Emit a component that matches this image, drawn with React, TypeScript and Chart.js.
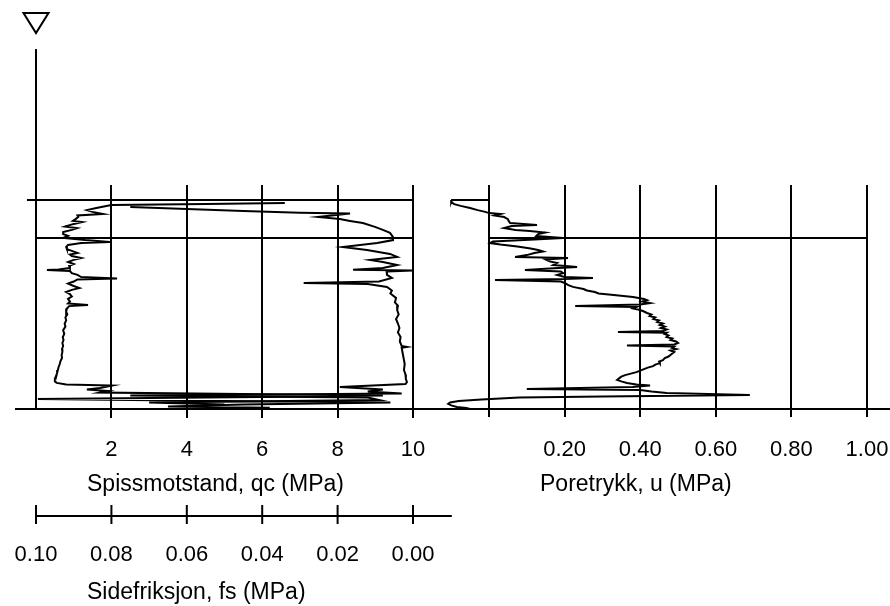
import React, { useEffect, useRef } from 'react';
import { Chart, registerables } from 'chart.js';

Chart.register(...registerables);

const FONT = '"Liberation Sans", Arial, sans-serif';

// Axis ticks
const qcTicks = [0, 2, 4, 6, 8, 10];
const fsTicks = [0.1, 0.08, 0.06, 0.04, 0.02, 0.0];
const uTicks = [0, 0.2, 0.4, 0.6, 0.8, 1.0];

// Axis titles
const qcTitle = 'Spissmotstand, qc (MPa)';
const fsTitle = 'Sidefriksjon, fs (MPa)';
const uTitle = 'Poretrykk, u (MPa)';

// Depths (m)
const groundwaterDepth = 0;
const gridTopDepth = 4.5333;
const soundingStartDepth = 5.03;
const layerBoundaryDepth = 6.3;
const finalDepth = 12;
const fsAxisDepth = 15.57;

// [depth, qc (MPa)]
const qcProfile: [number, number][] = [
  [5.13, 6.6], [5.17, 4.5], [5.2, 2.0], [5.25, 1.8], [5.3, 1.6], [5.37, 1.35], [5.43, 1.5],
  [5.5, 1.78], [5.55, 1.1], [5.6, 1.12], [5.67, 1.05], [5.73, 0.98], [5.77, 1.22], [5.83, 1.0],
  [5.92, 0.77], [5.97, 1.09], [6.03, 0.95], [6.1, 0.72], [6.17, 0.72], [6.23, 0.85], [6.3, 0.72],
  [6.37, 1.3], [6.43, 1.96], [6.47, 1.2], [6.53, 0.85], [6.6, 0.8], [6.67, 0.82], [6.73, 0.95],
  [6.8, 1.1], [6.85, 0.9], [6.9, 0.95], [6.97, 1.2], [7.03, 1.0], [7.1, 0.85], [7.17, 1.0],
  [7.23, 0.88], [7.3, 0.9], [7.35, 0.6], [7.37, 0.29], [7.4, 0.9], [7.47, 0.95], [7.53, 1.1],
  [7.6, 1.2], [7.65, 2.15], [7.68, 1.1], [7.75, 1.0], [7.82, 0.85], [7.9, 1.0], [7.97, 1.15],
  [8.03, 0.95], [8.1, 0.8], [8.17, 0.9], [8.25, 0.95], [8.33, 0.85], [8.42, 0.9], [8.48, 0.85],
  [8.53, 1.38], [8.57, 0.88], [8.65, 0.82], [8.75, 0.8], [8.85, 0.83], [8.95, 0.78], [9.05, 0.8],
  [9.15, 0.76], [9.25, 0.78], [9.37, 0.72], [9.5, 0.75], [9.6, 0.71], [9.7, 0.73], [9.8, 0.7],
  [9.9, 0.72], [10.0, 0.69], [10.1, 0.7], [10.2, 0.68], [10.3, 0.69], [10.4, 0.65], [10.5, 0.63],
  [10.6, 0.6], [10.7, 0.58], [10.8, 0.56], [10.9, 0.53], [11.0, 0.5], [11.08, 0.5], [11.13, 0.55],
  [11.18, 0.8], [11.22, 2.02], [11.3, 1.7], [11.35, 1.35], [11.4, 1.9], [11.45, 1.7], [11.55, 9.2],
  [11.6, 6.0], [11.67, 0.05], [11.73, 5.0], [11.78, 9.4], [11.85, 5.5], [11.92, 3.5], [11.96, 6.2],
];

// [depth, fs (MPa)]
const fsProfile: [number, number][] = [
  [5.27, 0.075], [5.33, 0.06], [5.4, 0.045], [5.46, 0.03], [5.48, 0.0167], [5.6, 0.0252],
  [5.67, 0.0194], [5.73, 0.0167], [5.8, 0.0133], [5.93, 0.0101], [6.03, 0.008], [6.13, 0.0061],
  [6.27, 0.0053], [6.37, 0.0053], [6.47, 0.0095], [6.6, 0.0186], [6.7, 0.0122], [6.83, 0.0061],
  [6.93, 0.0042], [7.03, 0.0114], [7.1, 0.008], [7.2, 0.0042], [7.3, 0.008], [7.36, 0.0159],
  [7.38, 0.0], [7.42, 0.007], [7.53, 0.0069], [7.63, 0.0056], [7.75, 0.009], [7.8, 0.029],
  [7.83, 0.012], [7.93, 0.0069], [8.05, 0.0056], [8.15, 0.006], [8.3, 0.0045], [8.45, 0.0048],
  [8.55, 0.004], [8.7, 0.0042], [8.85, 0.0038], [9.0, 0.0045], [9.15, 0.004], [9.3, 0.0036],
  [9.45, 0.004], [9.6, 0.0033], [9.75, 0.0035], [9.9, 0.003], [9.93, 0.0016], [9.96, 0.003],
  [10.1, 0.0028], [10.3, 0.0025], [10.5, 0.0022], [10.7, 0.0024], [10.85, 0.002], [11.0, 0.0019],
  [11.1, 0.0016], [11.17, 0.002], [11.27, 0.0194], [11.35, 0.008], [11.42, 0.012], [11.48, 0.003],
  [11.55, 0.075], [11.62, 0.012], [11.7, 0.009], [11.78, 0.07], [11.85, 0.05],
];

// [depth, u (MPa)]
const uProfile: [number, number][] = [
  [5.03, 0.0], [5.03, -0.098], [5.1, -0.1], [5.17, -0.092], [5.23, -0.075], [5.3, -0.05],
  [5.37, -0.03], [5.43, -0.01], [5.47, 0.0], [5.5, 0.03], [5.55, 0.015], [5.6, 0.04], [5.67, 0.05],
  [5.73, 0.052], [5.8, 0.056], [5.87, 0.127], [5.9, 0.06], [5.97, 0.04], [6.03, 0.07], [6.07, 0.108],
  [6.12, 0.148], [6.17, 0.13], [6.23, 0.125], [6.3, 0.196], [6.35, 0.12], [6.42, 0.01], [6.47, 0.003],
  [6.52, 0.03], [6.58, 0.075], [6.65, 0.11], [6.7, 0.13], [6.75, 0.143], [6.8, 0.12], [6.87, 0.1],
  [6.93, 0.069], [6.97, 0.209], [7.02, 0.15], [7.08, 0.16], [7.13, 0.18], [7.2, 0.17], [7.27, 0.233],
  [7.32, 0.16], [7.37, 0.095], [7.42, 0.19], [7.47, 0.196], [7.53, 0.18], [7.6, 0.2], [7.63, 0.275],
  [7.67, 0.2], [7.7, 0.016], [7.75, 0.19], [7.8, 0.2], [7.87, 0.21], [7.93, 0.222], [8.0, 0.25],
  [8.05, 0.259], [8.1, 0.28], [8.15, 0.29], [8.2, 0.33], [8.27, 0.381], [8.33, 0.41], [8.37, 0.418],
  [8.42, 0.405], [8.47, 0.426], [8.52, 0.4], [8.57, 0.228], [8.6, 0.39], [8.65, 0.381], [8.7, 0.4],
  [8.75, 0.41], [8.8, 0.418], [8.85, 0.43], [8.9, 0.425], [8.95, 0.44], [9.0, 0.435], [9.05, 0.45],
  [9.1, 0.445], [9.15, 0.46], [9.2, 0.452], [9.25, 0.465], [9.3, 0.455], [9.35, 0.47], [9.4, 0.46],
  [9.43, 0.341], [9.46, 0.47], [9.5, 0.465], [9.55, 0.475], [9.6, 0.47], [9.65, 0.485], [9.7, 0.48],
  [9.75, 0.495], [9.8, 0.5], [9.85, 0.49], [9.88, 0.365], [9.92, 0.49], [9.97, 0.485], [10.0, 0.495],
  [10.05, 0.48], [10.1, 0.49], [10.15, 0.485], [10.2, 0.48], [10.25, 0.475], [10.3, 0.465],
  [10.37, 0.46], [10.42, 0.45], [10.47, 0.452], [10.52, 0.44], [10.57, 0.434], [10.62, 0.42],
  [10.67, 0.41], [10.72, 0.4], [10.77, 0.39], [10.82, 0.375], [10.87, 0.36], [10.92, 0.35],
  [10.97, 0.345], [11.03, 0.339], [11.08, 0.35], [11.13, 0.365], [11.18, 0.39], [11.22, 0.426],
  [11.27, 0.38], [11.33, 0.1], [11.37, 0.4], [11.42, 0.43], [11.47, 0.47], [11.53, 0.69], [11.58, 0.3],
  [11.62, 0.08], [11.68, -0.02], [11.73, -0.08], [11.78, -0.103], [11.83, -0.108], [11.88, -0.1],
  [11.93, -0.085], [11.97, -0.06], [12.0, -0.05],
];

const toXY = (p: [number, number][]) => p.map(([d, v]) => ({ x: v, y: d }));

const lineDs = (data: { x: number; y: number }[], xAxisID: string) => ({
  type: 'scatter' as const,
  data,
  xAxisID,
  yAxisID: 'y',
  showLine: true,
  borderColor: '#000',
  backgroundColor: '#000',
  borderWidth: 2,
  pointRadius: 0,
  pointHoverRadius: 0,
  fill: false,
  tension: 0,
});

const noPad = (s: any) => {
  s.paddingLeft = 0;
  s.paddingRight = 0;
  s.paddingTop = 0;
  s.paddingBottom = 0;
};

const cptExtras = {
  id: 'cptExtras',
  afterDraw(chart: any) {
    const { ctx, scales, chartArea } = chart;
    const xq = scales.xq;
    const xf = scales.xf;
    const xu = scales.xu;
    const y = scales.y;
    ctx.save();
    ctx.strokeStyle = '#000';
    ctx.fillStyle = '#000';
    ctx.lineWidth = 2;

    // depth axis above the grid
    const x0 = xq.getPixelForValue(0);
    const yGw = y.getPixelForValue(groundwaterDepth);
    ctx.beginPath();
    ctx.moveTo(x0, yGw);
    ctx.lineTo(x0, chartArea.top);
    ctx.stroke();

    // groundwater symbol
    ctx.beginPath();
    ctx.moveTo(x0 - 12.5, yGw - 36);
    ctx.lineTo(x0 + 12.5, yGw - 36);
    ctx.lineTo(x0, yGw - 16);
    ctx.closePath();
    ctx.stroke();

    // fs axis
    const yf = y.getPixelForValue(fsAxisDepth);
    ctx.beginPath();
    ctx.moveTo(xf.getPixelForValue(fsTicks[0]) - 1, yf);
    ctx.lineTo(xf.getPixelForValue(-0.0103), yf);
    for (const t of fsTicks) {
      const px = xf.getPixelForValue(t);
      ctx.moveTo(px, yf - 11);
      ctx.lineTo(px, yf + 8);
    }
    ctx.stroke();

    // titles
    ctx.font = `23px ${FONT}`;
    ctx.textAlign = 'left';
    ctx.textBaseline = 'middle';
    const yb = y.getPixelForValue(finalDepth);
    ctx.fillText(qcTitle, xq.getPixelForValue(0) + 51, yb + 76);
    ctx.fillText(uTitle, xu.getPixelForValue(0) + 51, yb + 76);
    ctx.fillText(fsTitle, xf.getPixelForValue(fsTicks[0]) + 51, yf + 77);
    ctx.restore();
  },
};

export default function App() {
  const ref = useRef<HTMLCanvasElement>(null);
  useEffect(() => {
    document.body.style.margin = '0';
    if (!ref.current) return;
    const tickFont = { family: FONT, size: 22 };
    const chart = new Chart(ref.current, {
      type: 'scatter',
      data: {
        datasets: [
          lineDs(toXY(qcProfile), 'xq'),
          lineDs(toXY(fsProfile), 'xf'),
          lineDs(toXY(uProfile), 'xu'),
          lineDs([{ x: -0.24, y: soundingStartDepth }, { x: 10, y: soundingStartDepth }], 'xq'),
          lineDs([{ x: 0, y: layerBoundaryDepth }, { x: 10, y: layerBoundaryDepth }], 'xq'),
          lineDs([{ x: 0, y: layerBoundaryDepth }, { x: 1, y: layerBoundaryDepth }], 'xu'),
        ] as any,
      },
      options: {
        responsive: false,
        animation: false,
        events: [],
        layout: { padding: { left: 16, right: 0, top: 185, bottom: 197 } },
        plugins: { legend: { display: false }, tooltip: { enabled: false } },
        scales: {
          y: { type: 'linear', display: false, reverse: true, min: gridTopDepth, max: finalDepth, afterFit: noPad },
          xq: {
            type: 'linear',
            position: { y: finalDepth } as any,
            min: -0.5305,
            max: 22.653,
            afterFit: noPad,
            afterBuildTicks: (a: any) => { a.ticks = qcTicks.map((v) => ({ value: v })); },
            grid: {
              color: '#000',
              lineWidth: 2,
              tickLength: 8,
              tickColor: (c: any) => (c.tick && c.tick.value === 0 ? 'rgba(0,0,0,0)' : '#000'),
            },
            border: { display: true, color: '#000', width: 2 },
            ticks: {
              color: '#000', font: tickFont, padding: 20, maxRotation: 0, autoSkip: false,
              callback: (v: any) => (Number(v) === 0 ? '' : String(v)),
            },
          },
          xu: {
            type: 'linear',
            position: { y: finalDepth } as any,
            min: -1.2513,
            max: 1.0608,
            afterFit: noPad,
            afterBuildTicks: (a: any) => { a.ticks = uTicks.map((v) => ({ value: v })); },
            grid: { color: '#000', lineWidth: 2, tickLength: 8, tickColor: '#000' },
            border: { display: false },
            ticks: {
              color: '#000', font: tickFont, padding: 20, maxRotation: 0, autoSkip: false,
              callback: (v: any) => (Number(v) === 0 ? '' : Number(v).toFixed(2)),
            },
          },
          xf: {
            type: 'linear',
            position: { y: fsAxisDepth } as any,
            reverse: true,
            min: -0.12653,
            max: 0.10531,
            afterFit: noPad,
            afterBuildTicks: (a: any) => { a.ticks = fsTicks.map((v) => ({ value: v })); },
            grid: { display: false, drawTicks: false },
            border: { display: false },
            ticks: {
              color: '#000', font: tickFont, padding: 26, maxRotation: 0, autoSkip: false,
              callback: (v: any) => Number(v).toFixed(2),
            },
          },
        } as any,
      },
      plugins: [cptExtras],
    });
    return () => chart.destroy();
  }, []);
  return (
    <div style={{ width: 890, height: 606 }}>
      <canvas ref={ref} width={890} height={606} style={{ display: 'block' }} />
    </div>
  );
}
